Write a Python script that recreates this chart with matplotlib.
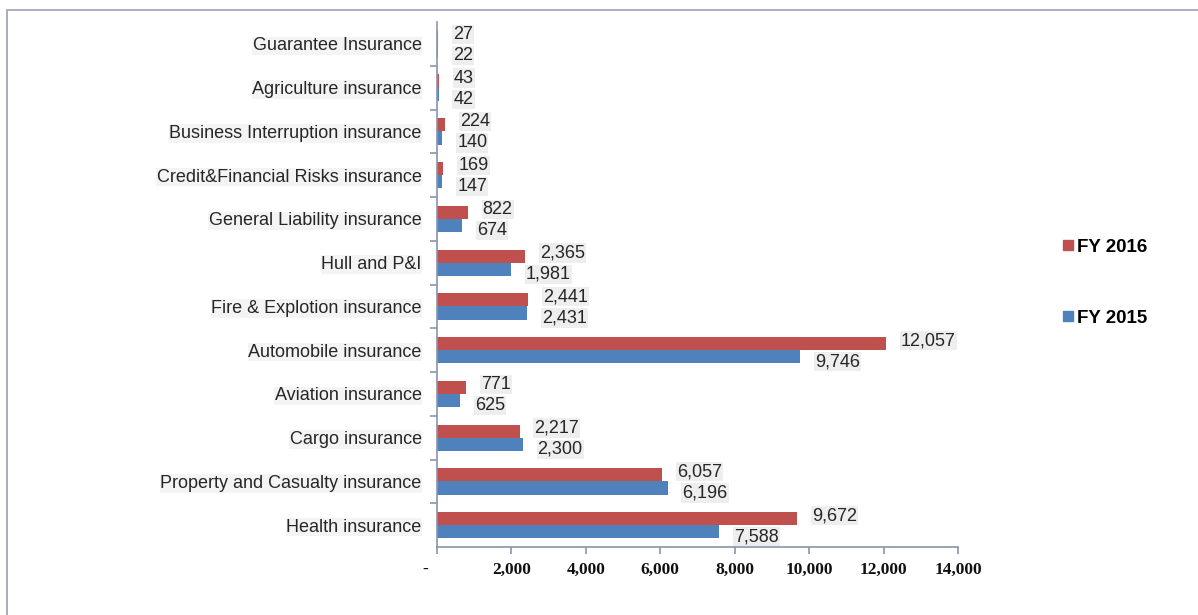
import matplotlib.pyplot as plt
from matplotlib.patches import Rectangle
from matplotlib.lines import Line2D
from matplotlib.transforms import ScaledTranslation

# premium by line of business, bottom row first
categories = ["Health insurance", "Property and Casualty insurance", "Cargo insurance",
              "Aviation insurance", "Automobile insurance", "Fire & Explotion insurance",
              "Hull and P&I", "General Liability insurance", "Credit&Financial Risks insurance",
              "Business Interruption insurance", "Agriculture insurance", "Guarantee Insurance"]
fy2016 = [9672, 6057, 2217, 771, 12057, 2441, 2365, 822, 169, 224, 43, 27]
fy2015 = [7588, 6196, 2300, 625, 9746, 2431, 1981, 674, 147, 140, 42, 22]
xticks = [0, 2000, 4000, 6000, 8000, 10000, 12000, 14000]
xticklabels = ["-", "2,000", "4,000", "6,000", "8,000", "10,000", "12,000", "14,000"]

RED = "#C0504D"
BLUE = "#4F81BD"
AXC = "#8a93b0"
TXT = "#262626"

W, H = 1198, 615
fig = plt.figure(figsize=(W / 100, H / 100), dpi=100)
# outer chart frame (right/bottom sides run off the canvas)
fig.patches.append(Rectangle((7 / W, -0.05), 1.0, 1 - 10 / H + 0.05,
                             transform=fig.transFigure, fill=False,
                             edgecolor="#a4a6bf", lw=1.3))

ax = fig.add_axes([437 / W, 1 - 547 / H, 521 / W, 525 / H])
y = list(range(len(categories)))
bh = 0.3
ax.barh([v + bh / 2 for v in y], fy2016, height=bh, color=RED, label="FY 2016")
ax.barh([v - bh / 2 for v in y], fy2015, height=bh, color=BLUE, label="FY 2015")
ax.set_xlim(0, 14000)
ax.set_ylim(-0.5, len(categories) - 0.5)

# value labels: a little right of the bar end, nudged off the bar pair
box = dict(facecolor="#eeeeee", edgecolor="none", pad=0.8)
px = 14000 / 521.0
py = len(categories) / 525.0
for i in y:
    ax.text(fy2016[i] + 15 * px, i + bh / 2 + 3 * py, f"{fy2016[i]:,}",
            ha="left", va="center", fontsize=13, family="Liberation Sans",
            color=TXT, bbox=box, zorder=5)
    ax.text(fy2015[i] + 15 * px, i - bh / 2 - 5 * py, f"{fy2015[i]:,}",
            ha="left", va="center", fontsize=13, family="Liberation Sans",
            color=TXT, bbox=box, zorder=5)

for s in ["top", "right"]:
    ax.spines[s].set_visible(False)
for s in ["left", "bottom"]:
    ax.spines[s].set_color(AXC)
    ax.spines[s].set_linewidth(1.2)

ax.set_xticks(xticks)
ax.set_xticklabels(xticklabels, fontsize=12.5, family="Liberation Serif",
                   fontweight="bold", color="#111111")
ax.tick_params(axis="x", length=5, color=AXC, width=1.2, pad=6)

ax.set_yticks(y)
ax.set_yticklabels(categories, fontsize=13, family="Liberation Sans", color=TXT)
for t in ax.get_yticklabels():
    t.set_bbox(dict(facecolor="#f4f4f4", edgecolor="none", pad=0.5))
ax.tick_params(axis="y", length=0, pad=11)
ax.set_yticks([v + 0.5 for v in y[:-1]], minor=True)
ax.tick_params(axis="y", which="minor", length=5, color=AXC, width=1.2)

# the zero label "-" sits left of its tick
lab0 = ax.xaxis.get_majorticklabels()[0]
lab0.set_transform(lab0.get_transform() + ScaledTranslation(-0.12, 0, fig.dpi_scale_trans))

handles = [Line2D([], [], marker="s", ls="none", color=RED, markersize=6.5),
           Line2D([], [], marker="s", ls="none", color=BLUE, markersize=6.5)]
fig.legend(handles, ["FY 2016", "FY 2015"], loc="upper left",
           bbox_to_anchor=(1044 / W, 1 - 222 / H), frameon=False,
           prop=dict(family="Liberation Sans", size=13.5, weight="bold"),
           handletextpad=0.05, handlelength=0.8, labelspacing=2.85)

fig.savefig("out.png", dpi=100)
